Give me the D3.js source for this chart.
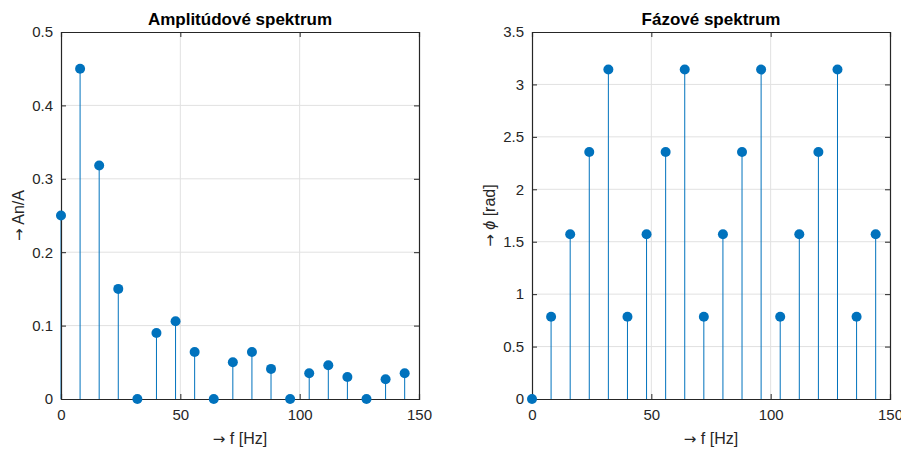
<!DOCTYPE html>
<html>
<head>
<meta charset="utf-8">
<script src="https://cdn.jsdelivr.net/npm/d3@7"></script>
<style>
  body { margin: 0; background: #fff; }
  svg { font-family: "Liberation Sans", Arial, sans-serif; }
</style>
</head>
<body>
<div id="chart"></div>
<script>
// frequencies of the harmonics [Hz]
const freqs = [0, 8, 16, 24, 32, 40, 48, 56, 64, 72, 80, 88, 96, 104, 112, 120, 128, 136, 144];
// amplitude spectrum An/A
const amplitudes = [0.25, 0.45, 0.318, 0.15, 0, 0.09, 0.106, 0.064, 0, 0.05, 0.064, 0.041, 0,
                    0.035, 0.046, 0.030, 0, 0.027, 0.035];
// phase spectrum [rad]
const phases = [0, 0.785, 1.571, 2.356, 3.1416, 0.785, 1.571, 2.356, 3.1416, 0.785, 1.571, 2.356,
                3.1416, 0.785, 1.571, 2.356, 3.1416, 0.785, 1.571];

const xTicks = [0, 50, 100, 150];
const ampTicks = [0, 0.1, 0.2, 0.3, 0.4, 0.5];
const phaseTicks = [0, 0.5, 1, 1.5, 2, 2.5, 3, 3.5];

const W = 901, H = 449;
const svg = d3.select("#chart").append("svg").attr("width", W).attr("height", H);

function arrow(t) {
    t.append("tspan").attr("font-family", "DejaVu Sans").attr("font-size", "15px").text("\u2192");
    t.append("tspan").text(" ");
}

function drawStem(opt) {
    let x = d3.scaleLinear().domain([0, 150]).range([opt.left, opt.right]);
    let y = d3.scaleLinear().domain(opt.yDomain).range([399, 32]);
    let g = svg.append("g");
    const axisCol = "#262626";

    // grid
    g.selectAll(".gx").data(xTicks.slice(1, -1)).enter().append("line")
        .attr("x1", d => x(d)).attr("x2", d => x(d))
        .attr("y1", y.range()[1]).attr("y2", y.range()[0])
        .attr("stroke", "#e1e1e1").attr("stroke-width", 1);
    g.selectAll(".gy").data(opt.yTicks.slice(1, -1)).enter().append("line")
        .attr("x1", opt.left).attr("x2", opt.right)
        .attr("y1", d => y(d)).attr("y2", d => y(d))
        .attr("stroke", "#e1e1e1").attr("stroke-width", 1);

    // stems
    let data = freqs.map((f, i) => ({ f: f, v: opt.values[i] }));
    g.selectAll(".stem").data(data).enter().append("line")
        .attr("x1", d => x(d.f)).attr("x2", d => x(d.f))
        .attr("y1", y(0)).attr("y2", d => y(d.v))
        .attr("stroke", "#0072BD").attr("stroke-width", 1);

    // box + axes (ticks inward)
    let bottom = g.append("g").attr("transform", "translate(0," + y(0) + ")")
        .call(d3.axisBottom(x).tickValues(xTicks).tickSize(-5).tickPadding(10).tickFormat(d3.format("d")));
    let top = g.append("g").attr("transform", "translate(0," + y.range()[1] + ")")
        .call(d3.axisTop(x).tickValues(xTicks).tickSize(-5).tickFormat(""));
    let left = g.append("g").attr("transform", "translate(" + opt.left + ",0)")
        .call(d3.axisLeft(y).tickValues(opt.yTicks).tickSize(-5).tickPadding(8).tickFormat(d => d));
    let right = g.append("g").attr("transform", "translate(" + opt.right + ",0)")
        .call(d3.axisRight(y).tickValues(opt.yTicks).tickSize(-5).tickFormat(""));
    [bottom, top, left, right].forEach(a => {
        a.attr("font-size", 15).attr("font-family", "Liberation Sans, Arial, sans-serif");
        a.select(".domain").attr("stroke", axisCol).attr("stroke-width", 1.2);
        a.selectAll(".tick line").attr("stroke", axisCol);
        a.selectAll(".tick text").attr("fill", axisCol);
    });

    // markers
    g.selectAll(".dot").data(data).enter().append("circle")
        .attr("cx", d => x(d.f)).attr("cy", d => y(d.v)).attr("r", 5)
        .attr("fill", "#0072BD");

    // title
    g.append("text").attr("x", (opt.left + opt.right) / 2).attr("y", 25)
        .attr("text-anchor", "middle").attr("font-weight", "bold").attr("font-size", "17px")
        .attr("fill", "#000").text(opt.title);
    // x label
    let xl = g.append("text").attr("x", (opt.left + opt.right) / 2).attr("y", 444)
        .attr("text-anchor", "middle").attr("font-size", "16px").attr("fill", "#262626");
    arrow(xl);
    xl.append("tspan").text("f [Hz]");
    // y label
    let yl = g.append("text")
        .attr("transform", "translate(" + opt.yLabelX + "," + (y(opt.yDomain[1] / 2)) + ") rotate(-90)")
        .attr("text-anchor", "middle").attr("font-size", "16px").attr("fill", "#262626");
    arrow(yl);
    opt.yLabel(yl);
}

drawStem({
    left: 61, right: 419, yDomain: [0, 0.5], yTicks: ampTicks, values: amplitudes,
    title: "Amplitúdové spektrum", yLabelX: 24,
    yLabel: t => t.append("tspan").text("An/A")
});
drawStem({
    left: 532, right: 890, yDomain: [0, 3.5], yTicks: phaseTicks, values: phases,
    title: "Fázové spektrum", yLabelX: 495,
    yLabel: t => {
        t.append("tspan").attr("font-style", "italic").text("\u03d5");
        t.append("tspan").text(" [rad]");
    }
});
</script>
</body>
</html>
